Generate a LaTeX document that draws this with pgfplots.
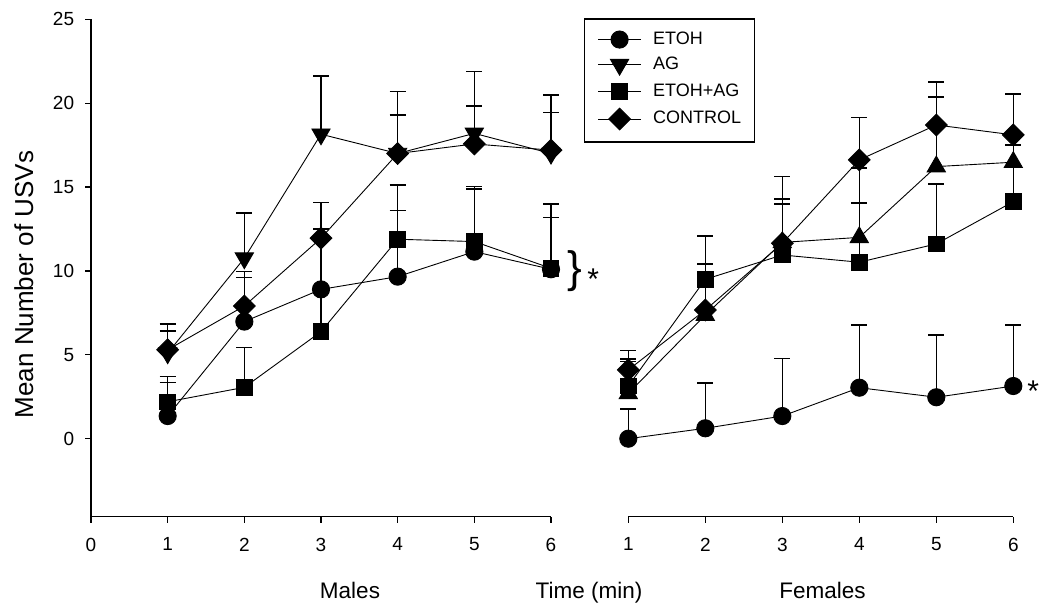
\documentclass[border=0pt]{standalone}
\usepackage{pgfplots}
\pgfplotsset{compat=1.18}
\usepackage{fontspec}
\setmainfont{Liberation Sans}

% Males (left panel): x, mean, upper error
\pgfplotstableread{
x y e
1 1.35 1.99
2 6.98 2.64
3 8.90 2.90
4 9.66 3.94
5 11.15 3.74
6 10.10 3.08
}\mEtoh
\pgfplotstableread{
x y e
1 5.10 1.32
2 10.76 2.68
3 18.15 3.48
4 17.00 3.69
5 18.20 3.68
6 17.00 3.50
}\mAg
\pgfplotstableread{
x y e
1 2.20 1.50
2 3.06 2.37
3 6.38 6.12
4 11.89 3.24
5 11.75 3.28
6 10.16 3.84
}\mEa
\pgfplotstableread{
x y e
1 5.30 1.52
2 7.91 2.05
3 11.95 2.12
4 17.00 2.30
5 17.57 2.27
6 17.20 2.24
}\mCtrl
% Females (right panel)
\pgfplotstableread{
x y e
1 0.00 1.77
2 0.62 2.70
3 1.35 3.42
4 3.04 3.74
5 2.47 3.71
6 3.14 3.64
}\fEtoh
\pgfplotstableread{
x y e
1 2.70 1.90
2 7.37 3.03
3 11.70 2.57
4 12.00 4.12
5 16.22 4.14
6 16.48 4.06
}\fAg
\pgfplotstableread{
x y e
1 3.14 1.61
2 9.50 2.60
3 10.95 3.03
4 10.52 3.52
5 11.61 3.56
6 14.13 3.38
}\fEa
\pgfplotstableread{
x y e
1 4.10 1.15
2 7.67 2.73
3 11.65 3.97
4 16.62 2.52
5 18.70 2.55
6 18.11 2.43
}\fCtrl

\pgfplotsset{
  myax/.style={
    scale only axis, ymin=-4.65, ymax=25, height=497.4pt, clip=false,
    tick style={line width=1.3pt, black},
    major tick length=6pt,
    tick label style={font=\fontsize{19}{22}\selectfont},
    /pgf/number format/assume math mode=true,
    error bars/y dir=plus, error bars/y explicit,
    error bars/error bar style={line width=1.6pt, black},
    error bars/error mark options={line width=1.6pt, mark size=8pt, black, rotate=90},
  },
  cmark/.style={black, line width=0.9pt, mark=*, mark size=8.6pt, mark options={solid, fill=black}},
  tdmark/.style={black, line width=0.9pt, mark=triangle*, mark size=10.5pt, mark options={solid, fill=black, rotate=180}},
  tumark/.style={black, line width=0.9pt, mark=triangle*, mark size=10.5pt, mark options={solid, fill=black}},
  smark/.style={black, line width=0.9pt, mark=square*, mark size=7.8pt, mark options={solid, fill=black}},
  dmark/.style={black, line width=0.9pt, mark=square*, mark size=7.7pt, mark options={solid, fill=black, rotate=45}},
}

\begin{document}
\begin{tikzpicture}
\path[use as bounding box] (0pt,0pt) rectangle (1050pt,-609pt);

\begin{axis}[myax, at={(91pt,-516.7pt)}, anchor=south west, width=460pt,
  xmin=0, xmax=6, axis lines*=left,
  axis line style={line width=1.3pt,-},
  xtick pos=lower, ytick pos=left, tick align=outside,
  xtick={0,1,2,3,4,5,6}, ytick={0,5,10,15,20,25},
  xticklabel style={anchor=north, inner sep=0pt, yshift=-15pt},
  yticklabel style={anchor=east, inner sep=0pt, xshift=-10.7pt},
  legend style={at={(1.0717,1.002)}, anchor=north west, draw=black, line width=1.3pt,
    inner xsep=13pt, inner ysep=12pt, row sep=8pt, column sep=11.7pt,
    font=\fontsize{18}{21}\selectfont,
    nodes={inner sep=0pt, text height=13pt, text depth=4pt}},
  legend cell align=left,
  legend image code/.code={\draw[#1, mark repeat=2, mark phase=2] plot coordinates {(0pt,0pt) (21.5pt,0pt) (43pt,0pt)};},
]
\addplot[cmark] table[x=x, y=y, y error=e] {\mEtoh};
\addlegendentry{ETOH}
\addplot[tdmark] table[x=x, y=y, y error=e] {\mAg};
\addlegendentry{AG}
\addplot[smark] table[x=x, y=y, y error=e] {\mEa};
\addlegendentry{ETOH+AG}
\addplot[dmark] table[x=x, y=y, y error=e] {\mCtrl};
\addlegendentry{CONTROL\hspace{9pt}}
\node[inner sep=0pt, font=\fontsize{44}{44}\selectfont] at (axis cs:6.313,10.0) {\}};
\node[inner sep=0pt, anchor=base, font=\fontsize{30}{30}\selectfont] at (axis cs:6.55,8.9) {*};
\end{axis}

\begin{axis}[myax, at={(628.3pt,-516.7pt)}, anchor=south west, width=385pt,
  xmin=1, xmax=6, axis x line*=bottom, hide y axis,
  axis line style={line width=1.3pt,-},
  xtick pos=lower, tick align=outside,
  xtick={1,2,3,4,5,6},
  xticklabel style={anchor=north, inner sep=0pt, yshift=-15pt},
]
\addplot[cmark] table[x=x, y=y, y error=e] {\fEtoh};
\addplot[tumark] table[x=x, y=y, y error=e] {\fAg};
\addplot[smark] table[x=x, y=y, y error=e] {\fEa};
\addplot[dmark] table[x=x, y=y, y error=e] {\fCtrl};
\node[inner sep=0pt, anchor=base, font=\fontsize{30}{30}\selectfont] at (axis cs:6.26,2.2) {*};
\end{axis}

\node[rotate=90, inner sep=0pt, font=\fontsize{26}{26}\selectfont] at (23.8pt,-284.5pt) {Mean Number of USVs};
\node[inner sep=0pt, anchor=base, font=\fontsize{22.5}{22.5}\selectfont] at (350pt,-598.3pt) {Males};
\node[inner sep=0pt, anchor=base, font=\fontsize{22.5}{22.5}\selectfont] at (589pt,-598.3pt) {Time (min)};
\node[inner sep=0pt, anchor=base, font=\fontsize{22.5}{22.5}\selectfont] at (822.5pt,-598.3pt) {Females};
\end{tikzpicture}
\end{document}
